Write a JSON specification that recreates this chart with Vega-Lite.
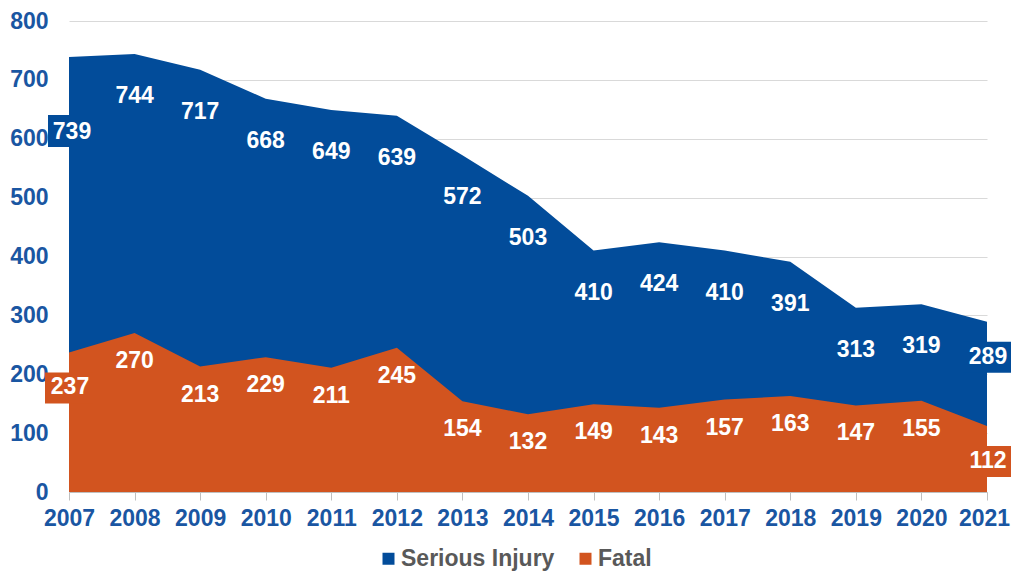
{
  "$schema": "https://vega.github.io/schema/vega-lite/v6.json",
  "width": 918,
  "height": 471,
  "autosize": "none",
  "padding": {"left": 69, "top": 21, "right": 24, "bottom": 80},
  "background": "white",
  "config": {
    "font": "Liberation Sans",
    "view": {"stroke": null}
  },
  "data": {
    "values": [
      {"year": 2007, "series": "Serious Injury", "value": 739},
      {"year": 2008, "series": "Serious Injury", "value": 744},
      {"year": 2009, "series": "Serious Injury", "value": 717},
      {"year": 2010, "series": "Serious Injury", "value": 668},
      {"year": 2011, "series": "Serious Injury", "value": 649},
      {"year": 2012, "series": "Serious Injury", "value": 639},
      {"year": 2013, "series": "Serious Injury", "value": 572},
      {"year": 2014, "series": "Serious Injury", "value": 503},
      {"year": 2015, "series": "Serious Injury", "value": 410},
      {"year": 2016, "series": "Serious Injury", "value": 424},
      {"year": 2017, "series": "Serious Injury", "value": 410},
      {"year": 2018, "series": "Serious Injury", "value": 391},
      {"year": 2019, "series": "Serious Injury", "value": 313},
      {"year": 2020, "series": "Serious Injury", "value": 319},
      {"year": 2021, "series": "Serious Injury", "value": 289},
      {"year": 2007, "series": "Fatal", "value": 237},
      {"year": 2008, "series": "Fatal", "value": 270},
      {"year": 2009, "series": "Fatal", "value": 213},
      {"year": 2010, "series": "Fatal", "value": 229},
      {"year": 2011, "series": "Fatal", "value": 211},
      {"year": 2012, "series": "Fatal", "value": 245},
      {"year": 2013, "series": "Fatal", "value": 154},
      {"year": 2014, "series": "Fatal", "value": 132},
      {"year": 2015, "series": "Fatal", "value": 149},
      {"year": 2016, "series": "Fatal", "value": 143},
      {"year": 2017, "series": "Fatal", "value": 157},
      {"year": 2018, "series": "Fatal", "value": 163},
      {"year": 2019, "series": "Fatal", "value": 147},
      {"year": 2020, "series": "Fatal", "value": 155},
      {"year": 2021, "series": "Fatal", "value": 112}
    ]
  },
  "encoding": {
    "x": {
      "field": "year",
      "type": "ordinal",
      "scale": {"type": "point", "padding": 0},
      "axis": {
        "title": null,
        "labelAngle": 0,
        "labelFont": "Liberation Sans",
        "labelFontSize": 23,
        "labelFontWeight": "bold",
        "labelColor": "#1A56A2",
        "labelPadding": 7,
        "labelOffset": {"condition": {"test": "datum.value == 2021", "value": -3}, "value": 0},
        "domainColor": "#BFBFBF",
        "domainWidth": 1,
        "tickColor": "#BFBFBF",
        "tickSize": 8,
        "grid": false
      }
    },
    "y": {
      "field": "value",
      "type": "quantitative",
      "stack": null,
      "scale": {"domain": [0, 800], "nice": false, "zero": true},
      "axis": {
        "title": null,
        "values": [0, 100, 200, 300, 400, 500, 600, 700, 800],
        "labelFont": "Liberation Sans",
        "labelFontSize": 23,
        "labelFontWeight": "bold",
        "labelColor": "#1A56A2",
        "labelPadding": 21,
        "ticks": false,
        "tickSize": 0,
        "domain": false,
        "grid": true,
        "gridColor": "#D9D9D9",
        "gridWidth": 1
      }
    }
  },
  "layer": [
    {
      "transform": [{"filter": "datum.series === 'Serious Injury'"}],
      "mark": {"type": "area", "opacity": 1, "interpolate": "linear"},
      "encoding": {
        "color": {
          "field": "series",
          "type": "nominal",
          "scale": {"domain": ["Serious Injury", "Fatal"], "range": ["#024C9A", "#D2541F"]},
          "legend": {
            "title": null,
            "orient": "none",
            "direction": "horizontal",
            "legendX": 308,
            "legendY": 526,
            "symbolType": "square",
            "symbolSize": 144,
            "symbolStrokeWidth": 0,
            "labelFont": "Liberation Sans",
            "labelFontSize": 23,
            "labelFontWeight": "bold",
            "labelColor": "#595959",
            "labelOffset": 1,
            "columnPadding": 19
          }
        }
      }
    },
    {
      "transform": [{"filter": "datum.series === 'Fatal'"}],
      "mark": {"type": "area", "opacity": 1, "interpolate": "linear"},
      "encoding": {
        "color": {"field": "series", "type": "nominal"}
      }
    },
    {
      "transform": [{"filter": "datum.year === 2021 || (datum.year === 2007 && datum.series === 'Fatal')"}],
      "mark": {"type": "point", "shape": "M-24,20H24V51H-24Z", "size": 4, "filled": true, "opacity": 1, "strokeWidth": 0},
      "encoding": {
        "color": {"field": "series", "type": "nominal", "legend": null}
      }
    },
    {
      "transform": [{"filter": "datum.year === 2007 && datum.series === 'Serious Injury'"}],
      "mark": {"type": "point", "shape": "M-21,58H27V90H-21Z", "size": 4, "filled": true, "opacity": 1, "strokeWidth": 0},
      "encoding": {
        "color": {"field": "series", "type": "nominal", "legend": null}
      }
    },
    {
      "transform": [{"filter": "datum.series === 'Serious Injury' && datum.year > 2007 && datum.year < 2021"}],
      "mark": {"type": "text", "dy": 42, "color": "white", "font": "Liberation Sans", "fontSize": 23, "fontWeight": "bold", "baseline": "middle", "align": "center"},
      "encoding": {"text": {"field": "value", "type": "quantitative"}}
    },
    {
      "transform": [{"filter": "datum.series === 'Fatal' && datum.year > 2007 && datum.year < 2021"}],
      "mark": {"type": "text", "dy": 28, "color": "white", "font": "Liberation Sans", "fontSize": 23, "fontWeight": "bold", "baseline": "middle", "align": "center"},
      "encoding": {"text": {"field": "value", "type": "quantitative"}}
    },
    {
      "transform": [{"filter": "datum.year === 2021 || (datum.year === 2007 && datum.series === 'Fatal')"}],
      "mark": {"type": "text", "dy": 35, "dx": 1, "color": "white", "font": "Liberation Sans", "fontSize": 23, "fontWeight": "bold", "baseline": "middle", "align": "center"},
      "encoding": {"text": {"field": "value", "type": "quantitative"}}
    },
    {
      "transform": [{"filter": "datum.year === 2007 && datum.series === 'Serious Injury'"}],
      "mark": {"type": "text", "dy": 75, "dx": 3, "color": "white", "font": "Liberation Sans", "fontSize": 23, "fontWeight": "bold", "baseline": "middle", "align": "center"},
      "encoding": {"text": {"field": "value", "type": "quantitative"}}
    }
  ]
}
